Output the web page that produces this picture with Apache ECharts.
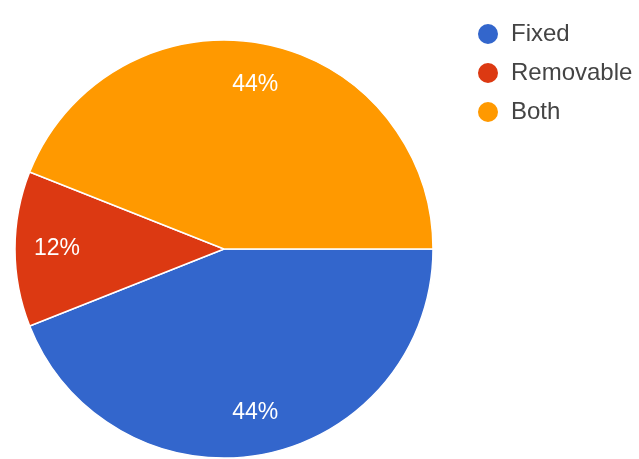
<!DOCTYPE html>
<html>
<head>
<meta charset="utf-8">
<script src="https://cdn.jsdelivr.net/npm/echarts@6/dist/echarts.min.js"></script>
<style>
  html, body { margin: 0; padding: 0; background: #ffffff; }
  #chart { width: 639px; height: 459px; }
</style>
</head>
<body>
<div id="chart"></div>
<script>
// Answer categories and their shares (percent)
const categories = ['Fixed', 'Removable', 'Both'];
const shares = [44, 12, 44];
const colors = ['#3366cc', '#dc3912', '#ff9900'];

const pieData = categories.map((name, i) => ({ name: name, value: shares[i] }));

const chart = echarts.init(document.getElementById('chart'), null, { renderer: 'canvas' });

const center = [224, 249];
const fontFamily = '"Liberation Sans", Arial, sans-serif';

chart.setOption({
  animation: false,
  color: colors,
  legend: {
    orient: 'vertical',
    left: 471,
    top: 17,
    icon: 'circle',
    itemWidth: 36,
    itemHeight: 22,
    itemGap: 15,
    selectedMode: false,
    data: categories,
    textStyle: {
      fontFamily: fontFamily,
      fontSize: 24,
      color: '#444444'
    }
  },
  series: [
    {
      // Coloured slices
      type: 'pie',
      center: center,
      radius: 209,
      startAngle: 0,
      clockwise: true,
      silent: true,
      itemStyle: { borderColor: '#ffffff', borderWidth: 1.5 },
      label: { show: false },
      labelLine: { show: false },
      data: pieData
    },
    {
      // Percentage labels, placed on an invisible ring near the rim
      type: 'pie',
      center: center,
      radius: [144, 184],
      startAngle: 0,
      clockwise: true,
      silent: true,
      legendHoverLink: false,
      itemStyle: { color: 'rgba(0,0,0,0)', borderWidth: 0 },
      label: {
        show: true,
        position: 'inside',
        formatter: p => p.value + '%',
        color: '#ffffff',
        fontFamily: fontFamily,
        fontSize: 23,
        textBorderWidth: 0
      },
      labelLine: { show: false },
      data: pieData
    }
  ]
});
</script>
</body>
</html>
